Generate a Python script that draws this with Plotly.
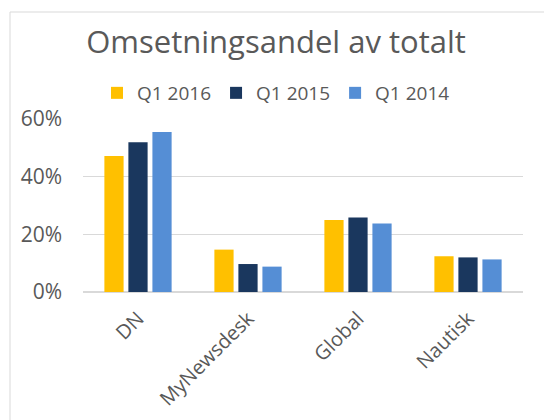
import plotly.graph_objects as go

categories = ["DN", "MyNewsdesk", "Global", "Nautisk"]
series_names = ["Q1 2016", "Q1 2015", "Q1 2014"]
q1_2016 = [47.2, 14.7, 25.0, 12.4]
q1_2015 = [51.9, 9.7, 25.8, 12.0]
q1_2014 = [55.5, 8.8, 23.8, 11.3]
colors = ["#FFC000", "#1A375E", "#558ED5"]
y_ticks = [0, 20, 40, 60]

fig = go.Figure()
for name, vals, c in zip(series_names, [q1_2016, q1_2015, q1_2014], colors):
    fig.add_trace(go.Bar(x=categories, y=vals, name=name, marker=dict(color=c, line=dict(width=0))))

L, R, T, B = 83, 523, 119, 292
W, H = 544, 420
pw, ph = R - L, B - T

fig.update_layout(
    width=W, height=H,
    margin=dict(l=L, r=W - R, t=T, b=H - B, autoexpand=False),
    paper_bgcolor="white", plot_bgcolor="white",
    barmode="group", bargap=0.345, bargroupgap=0.2,
    font=dict(family="Open Sans", color="#595959", size=19),
    title=dict(text="Omsetningsandel av totalt", x=276 / W, xanchor="center",
               y=1 - 42 / H, yanchor="middle",
               font=dict(size=31, color="#595959")),
    legend=dict(orientation="h", x=(276 - L) / pw, xanchor="center",
                y=(B - 93) / ph, yanchor="middle",
                font=dict(size=19, color="#595959"), itemwidth=30),
    showlegend=True,
    shapes=[dict(type="rect", xref="paper", yref="paper",
                 x0=(10 - L) / pw, x1=(580 - L) / pw,
                 y0=(B - 440) / ph, y1=(B - 12) / ph,
                 line=dict(color="#D9D9D9", width=1), fillcolor="rgba(0,0,0,0)", layer="below")],
)
fig.update_yaxes(range=[0, 60], tickvals=y_ticks, ticktext=[f"{v}%" for v in y_ticks],
                 showgrid=True, gridcolor="#D9D9D9", gridwidth=1,
                 zeroline=True, zerolinecolor="#D9D9D9", zerolinewidth=1.5,
                 showline=False, ticks="", fixedrange=True, ticklabelstandoff=20,
                 tickfont=dict(size=21), automargin=False)
fig.update_xaxes(tickangle=-45, showline=False, ticks="", showgrid=False,
                 ticklabelstandoff=10, tickfont=dict(size=20), automargin=False)

fig.write_html("out.html")
